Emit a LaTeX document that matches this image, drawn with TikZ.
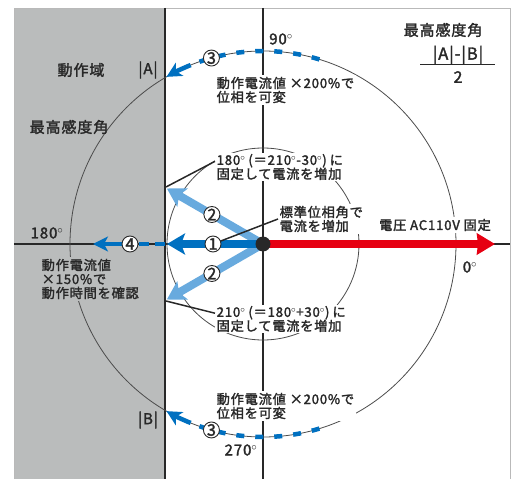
\documentclass[tikz,border=0pt]{standalone}
\usepackage{fontspec}
\setmainfont{Noto Sans CJK JP}
\newfontfamily\jp[LetterSpace=6, FakeBold=2]{Noto Sans CJK JP}
\usetikzlibrary{arrows.meta}

\definecolor{dblue}{RGB}{0,112,192}
\definecolor{lblue}{RGB}{104,170,222}
\definecolor{vred}{RGB}{230,0,18}
\definecolor{zone}{RGB}{186,188,188}
\definecolor{frameline}{RGB}{185,185,185}
\definecolor{ink}{RGB}{40,40,40}
\newcommand{\lblsmall}{\jp\fontsize{13.2}{14}\selectfont}
\newcommand{\lblbig}{\jp\fontsize{15}{16}\selectfont}
\newcommand{\dg}{\ensuremath{^\circ}}

\begin{document}
\begin{tikzpicture}[x=1pt, y=1pt,
  axis/.style={draw=ink, line width=1.4pt},
  thinarc/.style={draw=black!70, line width=0.8pt},
  num/.style={circle, draw=ink, fill=white, line width=0.9pt, inner sep=0pt, minimum size=16pt, text=ink, font=\jp\fontsize{16}{16}\selectfont},
  lbl/.style={font=\lblsmall, text=ink, align=left, inner sep=1.5pt},
  big/.style={font=\lblbig, text=ink, inner sep=1pt},
  leader/.style={draw=ink, line width=1.5pt},
  bluedash/.style={draw=dblue, line width=4.5pt, dash pattern=on 8pt off 11pt},
  bluehead/.style={draw=dblue, line width=4.5pt, -{Stealth[length=15pt, width=15pt, inset=4pt]}},
  fat/.style={line width=8pt, -{Stealth[length=18pt, width=21pt, inset=4pt]}}
]
\useasboundingbox (-263,-235) rectangle (250,244);

% operating zone and frame
\fill[zone] (-249,-235) rectangle (-98,236);
\draw[frameline, line width=0.8pt] (-249,-235) -- (-249,236) -- (247,236) -- (247,-235);
\draw[ink, line width=1.6pt] (-98,236) -- (-98,-235);

% axes
\draw[axis] (-249,0) -- (247,0);
\draw[axis] (0,236) -- (0,-235);

% circles
\draw[thinarc] (0,0) circle (193);
\draw[thinarc] (0,0) circle (96);

% labels
\node[big] (zonelbl) at (-182,174) {動作域};
\node[big] (absA) at (-115,174) {|A|};
\node[big] (absB) at (-115,-176) {|B|};
\node[big] (maxleft) at (-194,117) {最高感度角};
\node[big] (maxtitle) at (180,214) {最高感度角};
\node[big, font=\jp\fontsize{16.5}{18}\selectfont] (fracnum) at (195,189) {|A|-|B|};
\node[big, font=\jp\fontsize{16}{18}\selectfont] (fracden) at (195,167) {2};
\draw[ink, line width=1pt] (157,179) -- (232,179);

\node[big] (deg90) at (18,205) {90\dg};
\node[big] (deg0) at (207,-23) {0\dg};
\node[big] (deg180) at (-216,11) {180\dg};
\node[big] (deg270) at (-22,-206) {270\dg};

\node[lbl, fill=white, anchor=west] (vary1) at (-48,154) {動作電流値 ×200\%で\\位相を可変};
\node[lbl, fill=white, anchor=west] (vary2) at (-48,-162) {動作電流値 ×200\%で\\位相を可変};
\node[lbl, fill=white, anchor=west] (fix180) at (-48,77) {180\dg\hspace{3pt}(＝210\dg-30\dg)\hspace{3pt}に\\固定して電流を増加};
\node[lbl, fill=white, anchor=west] (fix210) at (-48,-75) {210\dg\hspace{3pt}(＝180\dg+30\dg)\hspace{3pt}に\\固定して電流を増加};
\node[lbl, fill=white, anchor=west] (std) at (15,25) {標準位相角で\\電流を増加};
\node[lbl, fill=white] (volt) at (172,19) {電圧 AC110V 固定};
\node[lbl, fill=zone, anchor=west] (check) at (-223,-35) {動作電流値\\×150\%で\\動作時間を確認};

% points
\coordinate (O) at (0,0);
\coordinate (tip1) at (-96,0);
\coordinate (tip2a) at (150:111);
\coordinate (tip2b) at (210:111);
\coordinate (tip4) at (-170,0);
\coordinate (tipV) at (232,0);
\coordinate (lead1) at (-97,57);
\coordinate (lead2) at (-97,-57);

% leaders
\draw[leader] (lead1) -- (fix180.175);
\draw[leader] (lead2) -- (fix210.175);

% phase change (3)
\draw[bluedash] (73:193) arc (73:112:193);
\draw[bluehead] (112:193) arc (112:120:193);
\draw[bluedash] (-73:193) arc (-73:-112:193);
\draw[bluehead] (-112:193) arc (-112:-120:193);

% time check (4)
\draw[bluedash, dash pattern=on 10pt off 6pt] (-98,0) -- (-140,0);
\draw[bluehead] (-140,0) -- (tip4);

% current increase (1), (2)
\draw[fat, lblue] (O) -- (tip2a);
\draw[fat, lblue] (O) -- (tip2b);
\draw[fat, dblue] (O) -- (tip1);
\draw[fat, vred, -{Stealth[length=18pt, width=21pt, inset=1pt]}] (O) -- (tipV);
\node[circle, fill=ink, minimum size=15pt, inner sep=0pt] (dot) at (O) {};

% circled numbers
\node[num] (n1) at (-50,0) {1};
\node[num] (n2a) at (150:59) {2};
\node[num] (n2b) at (210:59) {2};
\node[num] (n3a) at (105.5:193) {3};
\node[num] (n3b) at (-105.5:193) {3};
\node[num] (n4) at (-133,0) {4};
\draw[leader] (n1) -- (std.west);

\end{tikzpicture}
\end{document}
